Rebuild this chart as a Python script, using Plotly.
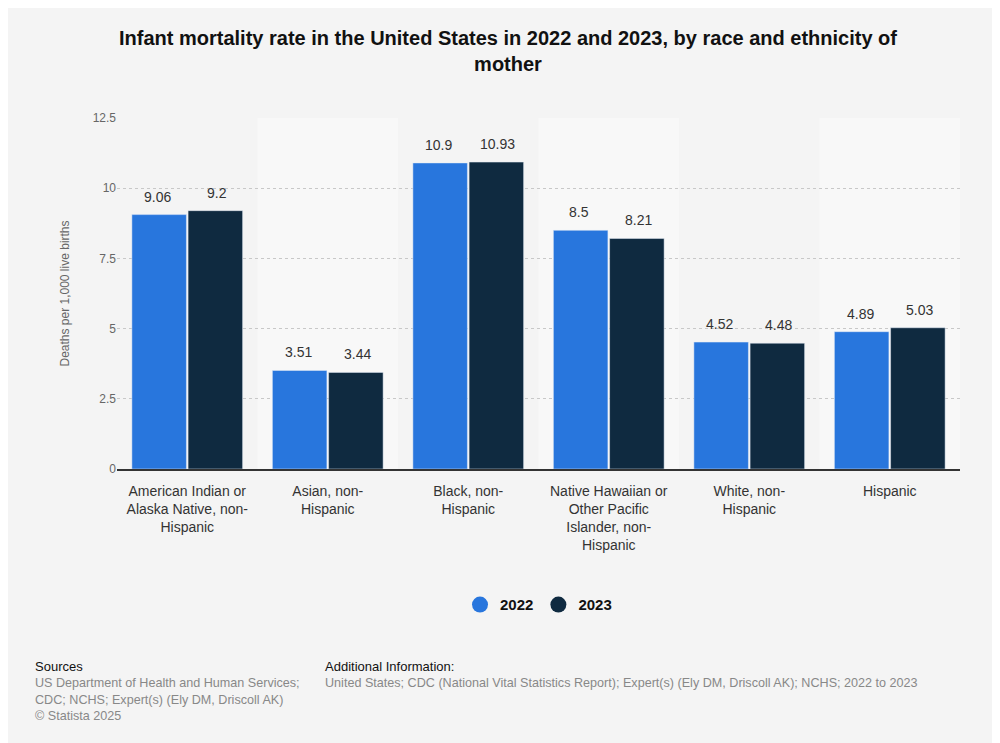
import plotly.graph_objects as go

categories = ["American Indian or<br>Alaska Native, non-<br>Hispanic", "Asian, non-<br>Hispanic", "Black, non-<br>Hispanic",
              "Native Hawaiian or<br>Other Pacific<br>Islander, non-<br>Hispanic", "White, non-<br>Hispanic", "Hispanic"]
v2022 = [9.06, 3.51, 10.9, 8.5, 4.52, 4.89]
v2023 = [9.2, 3.44, 10.93, 8.21, 4.48, 5.03]
yticks = [0, 2.5, 5, 7.5, 10, 12.5]
ytick_labels = ["0", "2.5", "5", "7.5", "10", "12.5"]

fig = go.Figure()
for k, (name, vals, col) in enumerate([("2022", v2022, "#2876dd"), ("2023", v2023, "#0f2a40")]):
    fig.add_trace(go.Bar(name=name, x=list(range(len(categories))), y=vals, marker_color=col,
                         showlegend=False, cliponaxis=False))
    fig.add_trace(go.Scatter(name=name, x=[None], y=[None], mode="markers",
                             marker=dict(color=col, size=16, symbol="circle")))
    for i, v in enumerate(vals):
        fig.add_annotation(x=i + (-0.21 if k == 0 else 0.21), y=v, text=f"{v:g}", showarrow=False,
                           yanchor="bottom", yshift=8, font=dict(size=14, color="#333"))

shapes = []
for i in range(len(categories)):
    if i % 2 == 1:
        shapes.append(dict(type="rect", xref="x", yref="paper", x0=i-0.5, x1=i+0.5, y0=0, y1=1,
                           fillcolor="#f8f8f8", line_width=0, layer="below"))

fig.update_layout(
    width=1000, height=743, paper_bgcolor="#f4f4f4", plot_bgcolor="#f4f4f4",
    font=dict(family="Liberation Sans, Arial, sans-serif", color="#333"),
    title=dict(text="<b>Infant mortality rate in the United States in 2022 and 2023, by race and ethnicity of<br>mother</b>",
               x=0.5, y=0.95, xanchor="center", font=dict(size=20, color="#111")),
    margin=dict(l=109, r=48, t=110, b=282),
    barmode="group", bargap=0.2, bargroupgap=0.03,
    shapes=shapes,
    xaxis=dict(tickmode="array", tickvals=list(range(len(categories))), ticktext=categories,
               range=[-0.5, 5.5], showline=True, linecolor="#333", linewidth=2,
               tickfont=dict(size=14, color="#333"), ticks="", ticklabelstandoff=8),
    yaxis=dict(range=[0, 12.5], tickvals=yticks, ticktext=ytick_labels, gridcolor="#c8c8c8",
               griddash="dot", tickfont=dict(size=12, color="#666"), zeroline=False,
               title=dict(text="Deaths per 1,000 live births", font=dict(size=12, color="#666"), standoff=20)),
    legend=dict(orientation="h", x=0.5, xanchor="center", y=-0.34, yanchor="top",
                font=dict(size=15, color="#111", weight="bold")),
)
fig.add_annotation(xref="paper", yref="paper", x=-0.1, y=-0.535, xanchor="left", yanchor="top", align="left",
                   showarrow=False, font=dict(size=12.6, color="#888"),
                   text="<span style='color:#111;font-size:13px'>Sources</span><br>US Department of Health and Human Services;<br>CDC; NCHS; Expert(s) (Ely DM, Driscoll AK)<br>© Statista 2025")
fig.add_annotation(xref="paper", yref="paper", x=0.244, y=-0.535, xanchor="left", yanchor="top", align="left",
                   showarrow=False, font=dict(size=12.6, color="#888"),
                   text="<span style='color:#111;font-size:13px'>Additional Information:</span><br>United States; CDC (National Vital Statistics Report); Expert(s) (Ely DM, Driscoll AK); NCHS; 2022 to 2023")
fig.write_html("out.html")
